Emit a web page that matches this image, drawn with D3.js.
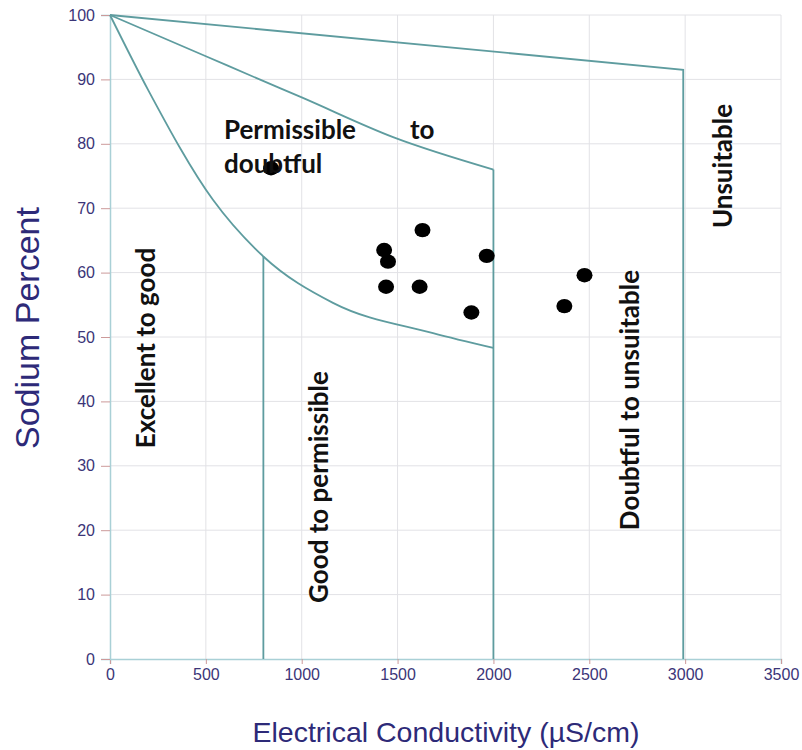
<!DOCTYPE html>
<html><head><meta charset="utf-8">
<script src="https://cdn.jsdelivr.net/npm/d3@7"></script>
<style>body{margin:0;background:#fff}</style>
</head><body>
<svg id="c" width="802" height="750"></svg>
<script>
const xTicks = [0,500,1000,1500,2000,2500,3000,3500];
const yTicks = [0,10,20,30,40,50,60,70,80,90,100];
// boundary lines (EC, Na%)
const lineUnsuitable = [[0,100],[2990,91.5],[2990,0]];
const curveDoubtful = [[0,100],[500,93.6],[780,90],[1000,87.2],[1480,81],[2000,76]];
const vertDoubtful = [[2000,76],[2000,0]];
const curveExcellent = [[0,100],[200,88.3],[537,71.3],[800,62.5],[1163,55.3],[1685,50.6],[2000,48.3]];
const lineGood = [[800,62.5],[800,0]];
// samples
const ecValues = [840,1430,1450,1440,1630,1615,1965,1885,2370,2475];
const naValues = [76.2,63.5,61.7,57.8,66.6,57.8,62.6,53.8,54.8,59.6];
const zoneLabels = ["Excellent to good","Good to permissible","Doubtful to unsuitable","Unsuitable"];

const svg = d3.select("#c");
const x = d3.scaleLinear().domain([0,3500]).range([110,781]);
const y = d3.scaleLinear().domain([0,100]).range([659,15]);

// grid
svg.append("g").selectAll("line").data(xTicks.slice(1)).join("line")
  .attr("x1",d=>x(d)).attr("x2",d=>x(d)).attr("y1",y(0)).attr("y2",y(100))
  .attr("stroke","#e2e2e6").attr("stroke-width",1);
svg.append("g").selectAll("line").data(yTicks.slice(1)).join("line")
  .attr("x1",x(0)).attr("x2",x(3500)).attr("y1",d=>y(d)).attr("y2",d=>y(d))
  .attr("stroke","#e2e2e6").attr("stroke-width",1);

// axes
const xAxis = svg.append("g").attr("transform",`translate(0,${y(0)})`)
  .call(d3.axisBottom(x).tickValues(xTicks).tickFormat(d3.format("d")).tickSize(5).tickPadding(5));
const yAxis = svg.append("g").attr("transform",`translate(${x(0)},0)`)
  .call(d3.axisLeft(y).tickValues(yTicks).tickFormat(d3.format("d")).tickSize(9).tickPadding(6));
[xAxis,yAxis].forEach(a=>{
  a.select(".domain").attr("stroke","#a9d0d6").attr("stroke-width",1.5);
  a.selectAll(".tick line").attr("stroke","#cc9a9a");
  a.selectAll(".tick text").attr("fill","#3b3578").attr("font-family","Liberation Sans, Arial, sans-serif")
    .attr("font-size",16);
});

// boundaries
const lg = d3.line().x(d=>x(d[0])).y(d=>y(d[1]));
const lc = d3.line().x(d=>x(d[0])).y(d=>y(d[1])).curve(d3.curveMonotoneX);
[[lineUnsuitable,lg],[curveDoubtful,lc],[vertDoubtful,lg],[curveExcellent,lc],[lineGood,lg]].forEach(([l,gen])=>{
  svg.append("path").datum(l).attr("d",gen).attr("fill","none")
    .attr("stroke","#5e9c9f").attr("stroke-width",1.8);
});

// points
svg.append("g").selectAll("ellipse").data(ecValues).join("ellipse")
  .attr("cx",d=>x(d)).attr("cy",(d,i)=>y(naValues[i])).attr("rx",8).attr("ry",7.2)
  .attr("fill","#000");

// zone labels
const lf = "Lato, 'Open Sans', sans-serif";
const pos = [[155,348],[328,487],[639,400],[732,166]];
zoneLabels.forEach((t,i)=>{
  svg.append("text").attr("transform",`translate(${pos[i][0]},${pos[i][1]}) rotate(-90)`)
    .attr("text-anchor","middle").attr("font-family",lf).attr("font-weight","bold")
    .attr("font-size",26).attr("fill","#111").text(t);
});
svg.append("text").attr("x",224).attr("y",139).attr("font-family",lf).attr("font-weight","bold")
  .attr("font-size",26).attr("fill","#111").text("Permissible");
svg.append("text").attr("x",410).attr("y",139).attr("font-family",lf).attr("font-weight","bold")
  .attr("font-size",26).attr("fill","#111").text("to");
svg.append("text").attr("x",224).attr("y",173).attr("font-family",lf).attr("font-weight","bold")
  .attr("font-size",26).attr("fill","#111").text("doubtful");

// axis titles
svg.append("text").attr("transform","translate(39,328) rotate(-90)").attr("text-anchor","middle")
  .attr("font-family","Liberation Sans, Arial, sans-serif").attr("font-size",34).attr("fill","#2d2a78")
  .text("Sodium Percent");
svg.append("text").attr("x",446).attr("y",742).attr("text-anchor","middle")
  .attr("font-family","Liberation Sans, Arial, sans-serif").attr("font-size",28.5).attr("fill","#2d2a78")
  .text("Electrical Conductivity (µS/cm)");
</script>
</body></html>
